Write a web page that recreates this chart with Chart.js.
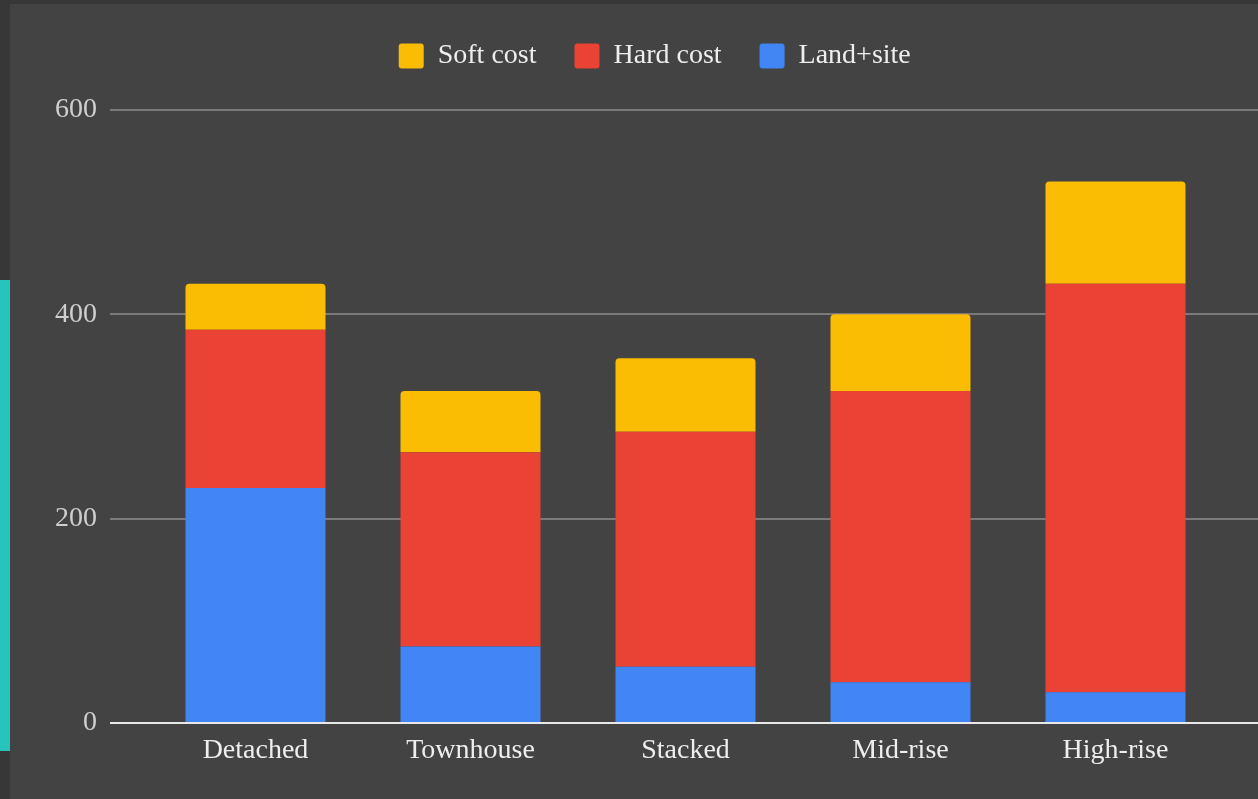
<!DOCTYPE html>
<html>
<head>
<meta charset="utf-8">
<title>Cost per unit by building type</title>
<script src="https://cdn.jsdelivr.net/npm/chart.js@4.4.1/dist/chart.umd.min.js"></script>
<style>
  html, body { margin: 0; padding: 0; background: #373737; overflow: hidden; }
  #panel { position: absolute; left: 10px; top: 4px; width: 1248px; height: 795px; background: #434343; }
  #accent { position: absolute; left: 0; top: 280px; width: 10px; height: 471px; background: #27c4bc; }
</style>
</head>
<body>
<div id="accent"></div>
<div id="panel"><canvas id="chart" width="1248" height="795"></canvas></div>
<script>
const CATEGORIES = ['Detached', 'Townhouse', 'Stacked', 'Mid-rise', 'High-rise'];
const LAND_SITE = [230, 75, 55, 40, 30];
const HARD_COST = [155, 190, 230, 285, 400];
const SOFT_COST = [45, 60, 72, 75, 100];
const Y_TICKS = [0, 200, 400, 600];

const GRID = '#7a7a7a';
const ZERO_LINE = '#e8e8e8';

Chart.defaults.font.family = "'Liberation Serif', 'DejaVu Serif', serif";
Chart.defaults.font.size = 28;

// extra room between the legend and the plot
const legendGap = {
    id: 'legendGap',
    beforeInit(chart) {
        const fit = chart.legend.fit;
        chart.legend.fit = function () {
            fit.bind(chart.legend)();
            this.height += 30;
        };
    }
};

const lineColor = (ctx) => ctx.tick && ctx.tick.value === 0 ? ZERO_LINE : GRID;

new Chart(document.getElementById('chart'), {
    type: 'bar',
    plugins: [legendGap],
    data: {
        labels: CATEGORIES,
        datasets: [
            { label: 'Land+site', data: LAND_SITE, backgroundColor: '#4285f4', borderWidth: 0 },
            { label: 'Hard cost', data: HARD_COST, backgroundColor: '#ea4335', borderWidth: 0 },
            {
                label: 'Soft cost', data: SOFT_COST, backgroundColor: '#fbbc04', borderWidth: 0,
                borderRadius: { topLeft: 4, topRight: 4, bottomLeft: 0, bottomRight: 0 },
                borderSkipped: false
            }
        ]
    },
    options: {
        responsive: false,
        animation: false,
        layout: { padding: { left: 41.5, top: 0, right: 0, bottom: 0 } },
        datasets: {
            bar: { categoryPercentage: 140 / 215, barPercentage: 1 }
        },
        plugins: {
            tooltip: { enabled: false },
            legend: {
                reverse: true,
                labels: {
                    color: '#eeeeee',
                    boxWidth: 25,
                    boxHeight: 25,
                    useBorderRadius: true,
                    borderRadius: 3,
                    padding: 38
                }
            }
        },
        scales: {
            x: {
                stacked: true,
                grid: { display: false },
                border: { display: false },
                ticks: { color: '#eeeeee', padding: 3 },
                afterFit: (scale) => { scale.height = 76; }
            },
            y: {
                stacked: true,
                min: 0,
                max: 600,
                afterBuildTicks: (scale) => { scale.ticks = Y_TICKS.map(v => ({ value: v })); },
                afterFit: (scale) => { scale.width = 96.5; },
                border: { display: false },
                grid: {
                    color: lineColor,
                    tickColor: lineColor,
                    lineWidth: 2,
                    drawTicks: true,
                    tickLength: 38
                },
                ticks: { color: '#cfcfcf', padding: 13 }
            },
            // carries the gridlines on past the last bar
            yRight: {
                position: 'right',
                min: 0,
                max: 600,
                afterBuildTicks: (scale) => { scale.ticks = Y_TICKS.map(v => ({ value: v })); },
                border: { display: false },
                grid: {
                    drawOnChartArea: false,
                    color: lineColor,
                    tickColor: lineColor,
                    lineWidth: 2,
                    drawTicks: true,
                    tickLength: 35
                },
                ticks: { display: false }
            }
        }
    }
});
</script>
</body>
</html>
